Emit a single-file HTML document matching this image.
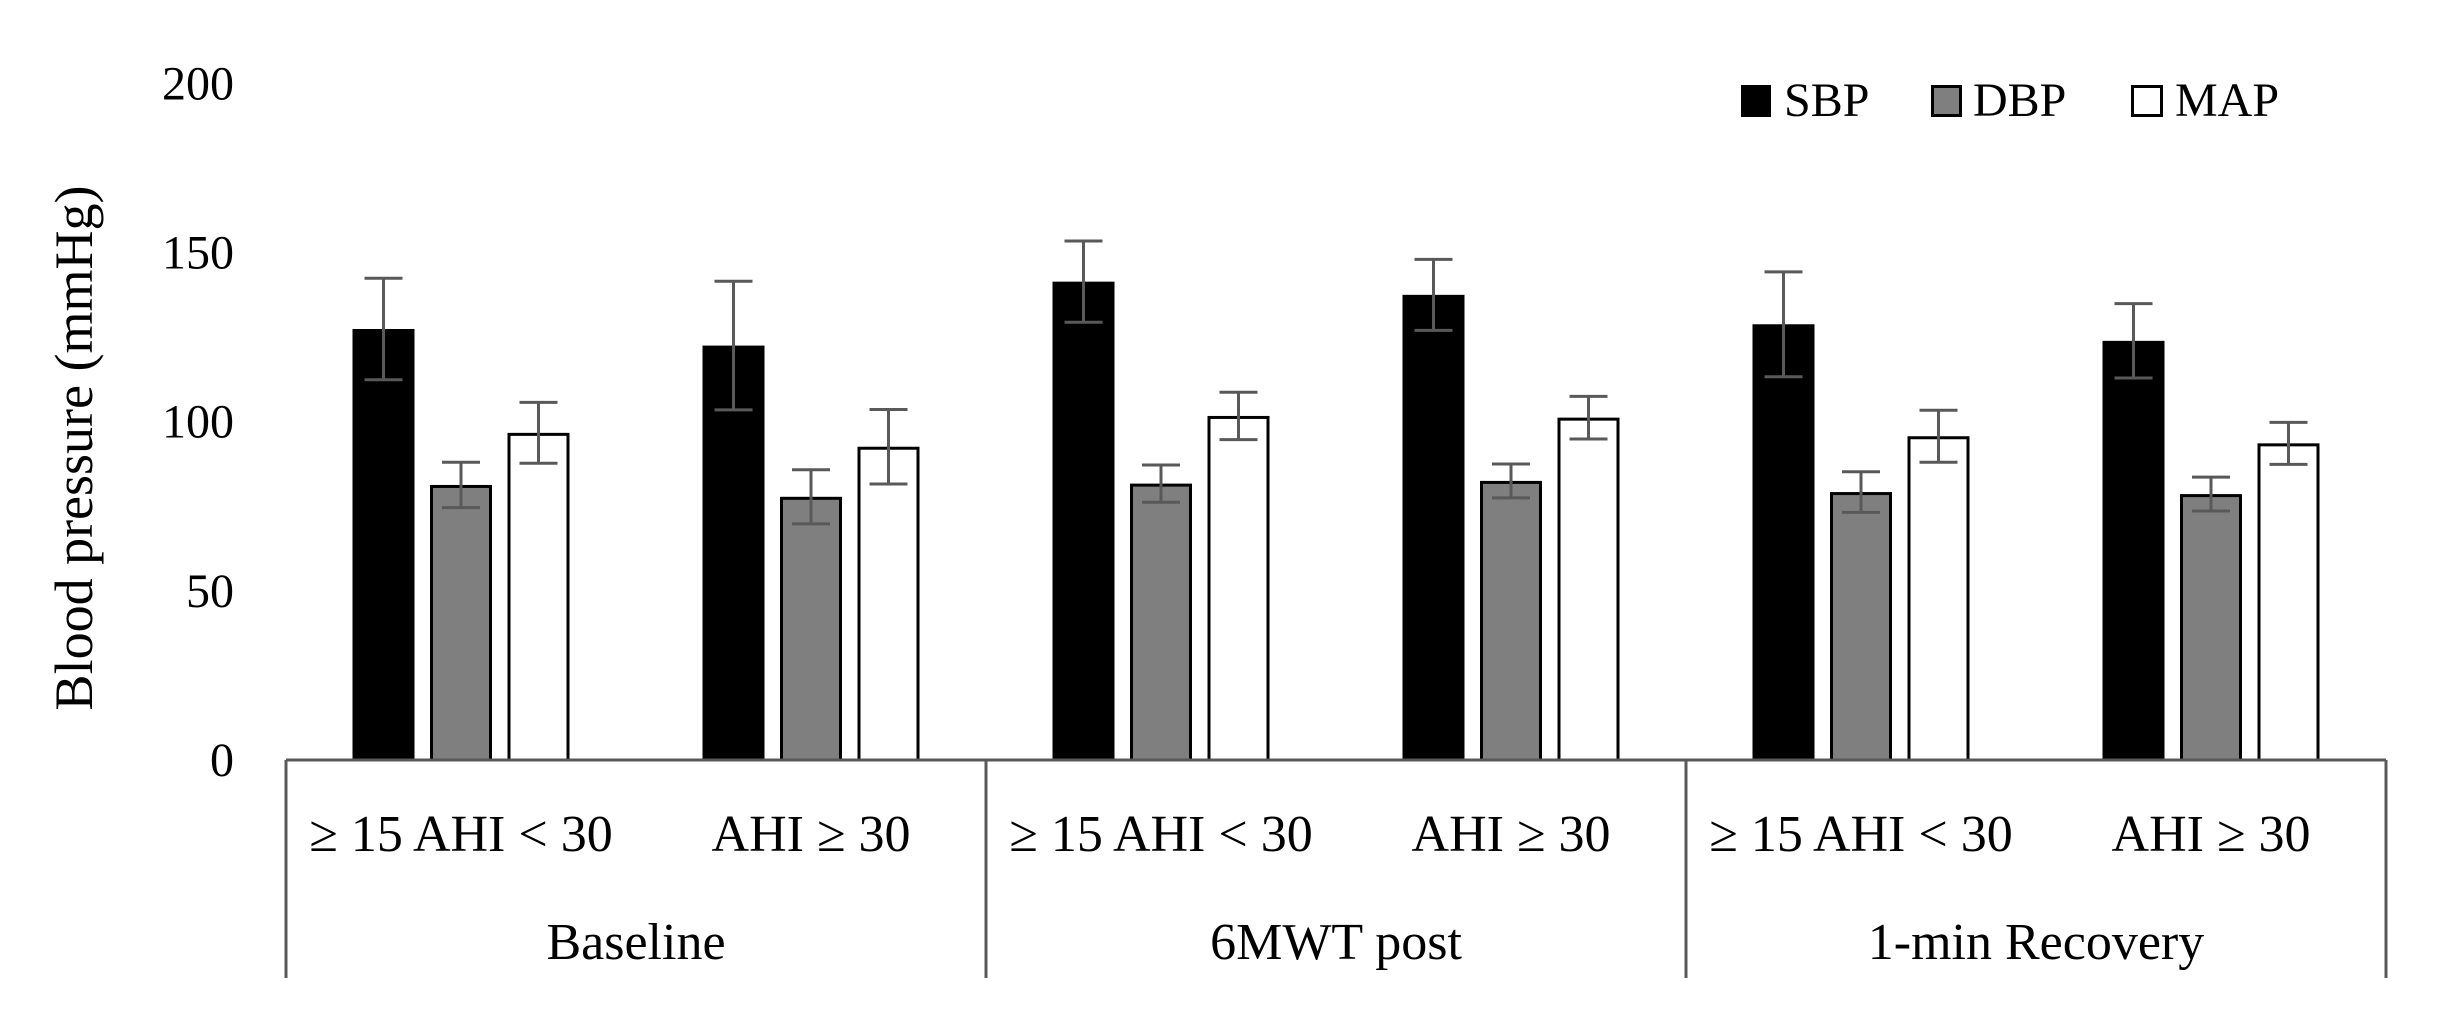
<!DOCTYPE html>
<html><head><meta charset="utf-8"><style>
html,body{margin:0;padding:0;background:#fff;}
svg{display:block;font-family:"Liberation Serif",serif;}
</style></head><body>
<svg id="chart" width="2450" height="1031" viewBox="0 0 2450 1031">
<g id="bars"></g>
<g id="axes"></g>
</svg>
<script>
const categories = ["≥ 15 AHI < 30","AHI ≥ 30","≥ 15 AHI < 30","AHI ≥ 30","≥ 15 AHI < 30","AHI ≥ 30"];
const groups = ["Baseline","6MWT post","1-min Recovery"];
const sbp = [127.4,122.5,141.4,137.5,128.8,123.9];
const sbpErr = [15,19,12,10.5,15.5,11];
const dbp = [81.3,77.8,81.7,82.5,79.2,78.6];
const dbpErr = [6.7,8,5.5,5,6,5];
const map = [96.7,92.6,101.7,101.2,95.7,93.6];
const mapErr = [9,11,7,6.3,7.7,6.2];
const yTicks = [0,50,100,150,200];

const NS="http://www.w3.org/2000/svg";
const X0=286, CW=350, Y0=760, PPU=3.383;
const y = v => Y0 - v*PPU;
const catCenter = i => X0 + CW*i + CW/2;
function mk(tag, attrs, parent){const e=document.createElementNS(NS,tag);for(const k in attrs)e.setAttribute(k,attrs[k]);parent.appendChild(e);return e;}
const bars=document.getElementById('bars'), axes=document.getElementById('axes');
const series=[{name:'sbp',vals:sbp,err:sbpErr,fill:'#000'},{name:'dbp',vals:dbp,err:dbpErr,fill:'#7f7f7f'},{name:'map',vals:map,err:mapErr,fill:'#fff'}];
const BW=62, STEP=77.5;
categories.forEach((c,i)=>{
  series.forEach((s,j)=>{
    const cx=catCenter(i)+(j-1)*STEP;
    const r=mk('rect',{x:cx-BW/2+1.5,y:y(s.vals[i])+1.5,width:BW-3,height:Y0-y(s.vals[i])-1.5,fill:s.fill,stroke:'#000','stroke-width':3},bars);
    
    
    const hi=y(s.vals[i]+s.err[i]), lo=y(s.vals[i]-s.err[i]);
    const e=mk('path',{d:`M${cx},${hi}V${lo}M${cx-19},${hi}H${cx+19}M${cx-19},${lo}H${cx+19}`,stroke:'#595959','stroke-width':3,fill:'none'},bars);
    
    
  });
  const t=mk('text',{x:catCenter(i),y:851,'text-anchor':'middle','font-size':52,fill:'#000'},axes);
  t.textContent=c;
  
  
});
groups.forEach((g,k)=>{
  const t=mk('text',{x:X0+2*CW*k+CW,y:959,'text-anchor':'middle','font-size':52,fill:'#000'},axes);
  t.textContent=g;
  
  
});
const ax=mk('line',{x1:X0,x2:X0+CW*6,y1:Y0,y2:Y0,stroke:'#595959','stroke-width':3},axes);


for(let k=0;k<=3;k++){
  const l=mk('line',{x1:X0+2*CW*k,x2:X0+2*CW*k,y1:Y0,y2:978,stroke:'#595959','stroke-width':3},axes);
  
  
}
yTicks.forEach(v=>{
  const t=mk('text',{x:234,y:y(v)+16,'text-anchor':'end','font-size':48,fill:'#000'},axes);
  t.textContent=v;
  
  
});
</script>
<svg style="position:absolute;left:0;top:0" width="2450" height="1031">
<text x="92" y="448" transform="rotate(-90 92 448)" text-anchor="middle" font-size="54" font-family="Liberation Serif, serif">Blood pressure (mmHg)</text>
<g font-size="48" font-family="Liberation Serif, serif">
<g><rect x="1741" y="85" width="30" height="32" fill="#000"/><text x="1784" y="116">SBP</text></g>
<g><rect x="1932.5" y="86.5" width="28" height="29" fill="#7f7f7f" stroke="#000" stroke-width="3"/><text x="1973" y="116">DBP</text></g>
<g><rect x="2132.5" y="86.5" width="29" height="29" fill="#fff" stroke="#000" stroke-width="3"/><text x="2175" y="116">MAP</text></g>
</g>
</svg>
</body></html>
